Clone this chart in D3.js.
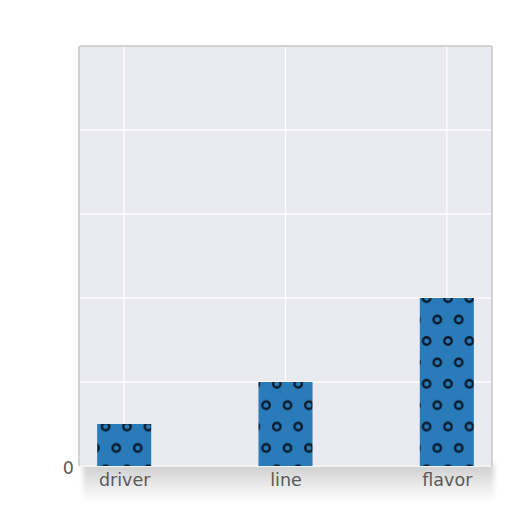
<!DOCTYPE html>
<html>
<head>
<meta charset="utf-8">
<script src="https://cdn.jsdelivr.net/npm/d3@7"></script>
<style>
  body { margin: 0; background: #fff; }
  svg { display: block; }
  .tick-label { font-family: "DejaVu Sans", sans-serif; font-size: 17.5px; fill: #5a5a5a; }
</style>
</head>
<body>
<div id="chart"></div>
<script>
/* DATA */
const categories = ["driver", "line", "flavor"];
const values = [1, 2, 4];
const yTicks = [0, 2, 4, 6, 8];
const yTickLabels = ["0", "", "", "", ""];

/* CONSTANTS */
const width = 512,
  height = 512,
  margin = { top: 46, bottom: 46, left: 79, right: 20 };

const svg = d3.select("#chart")
  .append("svg")
  .attr("width", width)
  .attr("height", height);

const defs = svg.append("defs");

// dotted hatch, staggered rows of rings
const hatch = defs.append("pattern")
  .attr("id", "hatch")
  .attr("patternUnits", "userSpaceOnUse")
  .attr("x", -1.4)
  .attr("y", -1.4)
  .attr("width", 21.4)
  .attr("height", 42.8);
hatch.append("rect")
  .attr("width", 21.4)
  .attr("height", 42.8)
  .attr("fill", "#2a7bba");
[[0, 0], [21.4, 0], [0, 42.8], [21.4, 42.8], [10.7, 21.4]].forEach(([cx, cy]) => {
  hatch.append("circle")
    .attr("cx", cx).attr("cy", cy).attr("r", 3.7)
    .attr("fill", "none")
    .attr("stroke", "#0a1a2b")
    .attr("stroke-width", 2.4);
});

// soft shadow under the plot
const shade = defs.append("linearGradient")
  .attr("id", "shade")
  .attr("x1", 0).attr("y1", 0).attr("x2", 0).attr("y2", 1);
shade.append("stop").attr("offset", "0%").attr("stop-color", "#cdcdcd");
shade.append("stop").attr("offset", "45%").attr("stop-color", "#e4e4e4");
shade.append("stop").attr("offset", "100%").attr("stop-color", "#ffffff");

defs.append("filter")
  .attr("id", "blur")
  .attr("x", "-10%").attr("y", "-30%").attr("width", "120%").attr("height", "160%")
  .append("feGaussianBlur").attr("stdDeviation", 2.5);

/* SCALES */
const xScale = d3.scalePoint()
  .domain(categories)
  .range([margin.left, width - margin.right])
  .padding(0.28);

const yScale = d3.scaleLinear()
  .domain([0, 10])
  .range([height - margin.bottom, margin.top]);

const plotLeft = margin.left,
  plotRight = width - margin.right,
  plotTop = margin.top,
  plotBottom = height - margin.bottom;

// shadow band below the axes
svg.append("rect")
  .attr("x", plotLeft + 4)
  .attr("y", plotBottom - 2)
  .attr("width", plotRight - plotLeft - 2)
  .attr("height", 38)
  .attr("fill", "url(#shade)")
  .attr("filter", "url(#blur)");

// plot background
svg.append("rect")
  .attr("x", plotLeft)
  .attr("y", plotTop)
  .attr("width", plotRight - plotLeft)
  .attr("height", plotBottom - plotTop)
  .attr("rx", 2)
  .attr("fill", "#e9e9f1")
  .attr("stroke", "#c6c6c8")
  .attr("stroke-width", 1.5);

// gridlines
svg.append("g")
  .selectAll("line.hgrid")
  .data(yTicks)
  .join("line")
  .attr("class", "hgrid")
  .attr("x1", plotLeft + 1)
  .attr("x2", plotRight - 1)
  .attr("y1", d => yScale(d))
  .attr("y2", d => yScale(d))
  .attr("stroke", "#fff")
  .attr("stroke-width", 1.3);

svg.append("g")
  .selectAll("line.vgrid")
  .data(categories)
  .join("line")
  .attr("class", "vgrid")
  .attr("x1", d => xScale(d))
  .attr("x2", d => xScale(d))
  .attr("y1", plotTop + 1)
  .attr("y2", plotBottom)
  .attr("stroke", "#fff")
  .attr("stroke-width", 1.3);

// bars
const barWidth = xScale.step() * 0.335;
svg.append("g")
  .selectAll("rect.bar")
  .data(categories)
  .join("rect")
  .attr("class", "bar")
  .attr("x", d => xScale(d) - barWidth / 2)
  .attr("y", (d, i) => yScale(values[i]))
  .attr("width", barWidth)
  .attr("height", (d, i) => yScale(0) - yScale(values[i]))
  .attr("fill", "url(#hatch)");

// axes
const xAxis = d3.axisBottom(xScale).tickSize(0).tickPadding(8);
const gx = svg.append("g")
  .attr("transform", `translate(0,${plotBottom})`)
  .call(xAxis);
gx.select(".domain").remove();
gx.selectAll("text").attr("class", "tick-label").attr("fill", null).attr("font-size", null).attr("font-family", null);

const yAxis = d3.axisLeft(yScale)
  .tickValues(yTicks)
  .tickFormat((d, i) => yTickLabels[i])
  .tickSize(0)
  .tickPadding(5);
const gy = svg.append("g")
  .attr("transform", `translate(${plotLeft},2)`)
  .call(yAxis);
gy.select(".domain").remove();
gy.selectAll("text").attr("class", "tick-label").attr("fill", null).attr("font-size", null).attr("font-family", null);
</script>
</body>
</html>
